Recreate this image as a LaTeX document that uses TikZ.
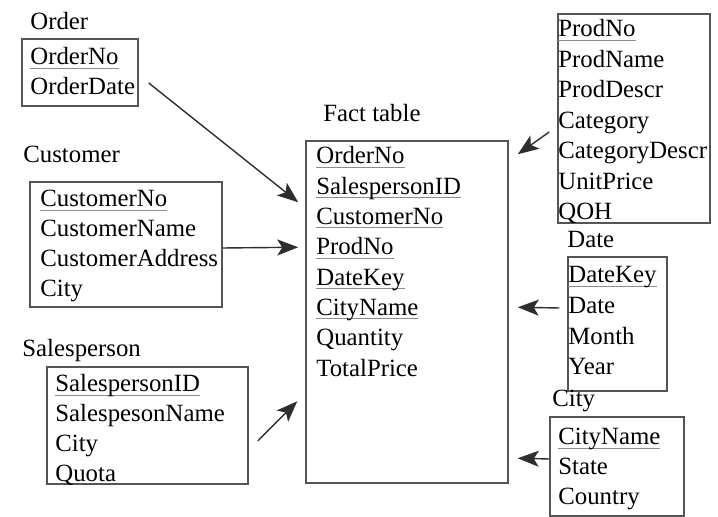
\documentclass[tikz,border=0pt]{standalone}
\usepackage{fontspec}
\setmainfont{Liberation Serif}
\usetikzlibrary{arrows.meta, positioning, calc}
\definecolor{boxgray}{HTML}{555555}
\definecolor{keygray}{HTML}{8C8C8C}
\definecolor{arrowgray}{HTML}{2E2E2E}
% primary key: thin grey underline
\newcommand{\pkey}[1]{\setbox0\hbox{#1}\rlap{\color{keygray}\vrule width\wd0 height -1.4pt depth 1.9pt}\box0}

\begin{document}
\begin{tikzpicture}[x=0.5pt, y=-0.5pt, font=\fontsize{12.4}{15}\selectfont,
  tbl/.style={draw=boxgray, line width=0.75pt, inner sep=0pt},
  title/.style={anchor=base west, inner sep=0pt},
  row/.style={anchor=base west, inner sep=0pt},
  fk/.style={-{Stealth[length=10.5pt, width=8pt, inset=2.5pt]}, draw=arrowgray, line width=0.7pt}]

\useasboundingbox (0,0) rectangle (718,517);

% Order
\node[title] (ordtitle) at (30,30) {Order};
\node[tbl, minimum width=58pt, minimum height=33.5pt] (ordbox) at (80,72.5) {};
\foreach \t [count=\i] in {\pkey{OrderNo}, OrderDate}
  \node[row] (ord-\i) at ({30},{65+30*(\i-1)}) {\t};

% Customer
\node[title] (custitle) at (23,163) {Customer};
\node[tbl, minimum width=96pt, minimum height=62.5pt] (cusbox) at (126,244.5) {};
\foreach \t [count=\i] in {\pkey{CustomerNo}, CustomerName, CustomerAddress, City}
  \node[row] (cus-\i) at ({40},{207+30*(\i-1)}) {\t};

% Salesperson
\node[title] (saltitle) at (22,357) {Salesperson};
\node[tbl, minimum width=100.5pt, minimum height=58.5pt] (salbox) at (147.5,425.5) {};
\foreach \t [count=\i] in {\pkey{SalespersonID}, SalespesonName, City, Quota}
  \node[row] (sal-\i) at ({55},{392+30*(\i-1)}) {\t};

% Fact table
\node[title] (facttitle) at (323,122) {Fact table};
\node[tbl, minimum width=101pt, minimum height=171pt] (fact) at (407,312) {};
\foreach \t [count=\i] in {\pkey{OrderNo}, \pkey{SalespersonID}, \pkey{CustomerNo},
    \pkey{ProdNo}, \pkey{DateKey}, \pkey{CityName}, Quantity, TotalPrice}
  \node[row] (fact-\i) at ({316},{164+30.3*(\i-1)}) {\t};

% Product (no title)
\node[tbl, minimum width=76pt, minimum height=104.5pt] (prodbox) at (634,118.5) {};
\foreach \t [count=\i] in {\pkey{ProdNo}, ProdName, ProdDescr, Category,
    CategoryDescr, UnitPrice, QOH}
  \node[row] (prod-\i) at ({558},{37+30.5*(\i-1)}) {\t};

% Date
\node[title] (datetitle) at (567,248) {Date};
\node[tbl, minimum width=49.5pt, minimum height=67pt] (datebox) at (617.5,324) {};
\foreach \t [count=\i] in {\pkey{DateKey}, Date, Month, Year}
  \node[row] (date-\i) at ({568},{283+30.6*(\i-1)}) {\t};

% City
\node[title] (citytitle) at (552,407) {City};
\node[tbl, minimum width=67pt, minimum height=49.5pt] (citybox) at (617,466.5) {};
\foreach \t [count=\i] in {\pkey{CityName}, State, Country}
  \node[row] (city-\i) at ({558},{445+30*(\i-1)}) {\t};

% foreign key arrows
\draw[fk] ([xshift=5pt, yshift=-5.25pt]ordbox.east) -- ([xshift=-3.5pt, yshift=-31pt]fact.north west);
\draw[fk] ([yshift=-1.75pt]cusbox.east) -- ([xshift=-3.5pt, yshift=-53.5pt]fact.north west);
\draw[fk] ([xshift=4.5pt, yshift=-7.75pt]salbox.east) -- ([xshift=-4pt, yshift=-130.5pt]fact.north west);
\draw[fk] ([xshift=-4pt, yshift=-6.75pt]prodbox.west) -- ([xshift=4.5pt, yshift=-7pt]fact.north east);
\draw[fk] ([xshift=-4pt, yshift=8pt]datebox.west) -- ([xshift=4.5pt, yshift=-83.5pt]fact.north east);
\draw[fk] ([yshift=3.75pt]citybox.west) -- ([xshift=4.5pt, yshift=-159pt]fact.north east);

\end{tikzpicture}
\end{document}
